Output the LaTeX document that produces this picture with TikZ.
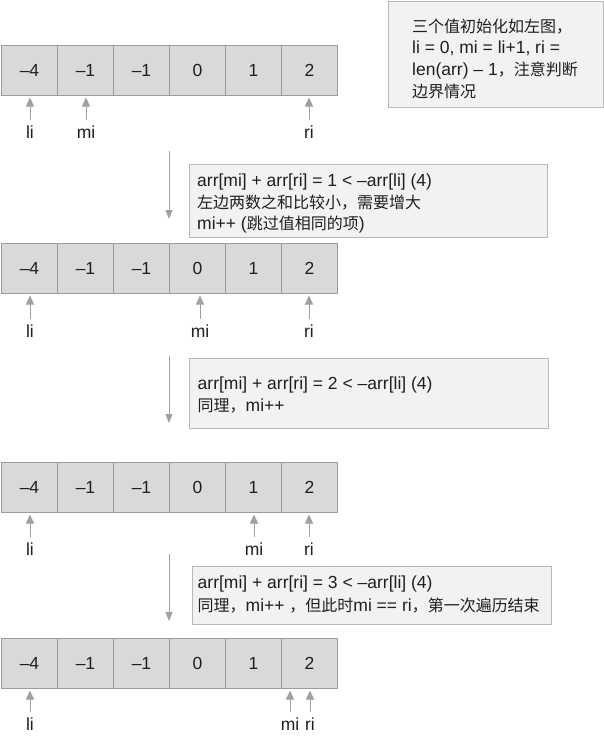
\documentclass[tikz,border=0pt]{standalone}
\usepackage{fontspec}
\setmainfont{Liberation Sans}
\newfontfamily\cjk[Scale=0.914]{Noto Sans CJK SC}
\usetikzlibrary{arrows.meta,calc}
\definecolor{cellfill}{HTML}{D9D9D9}
\definecolor{celldraw}{HTML}{9B9B9B}
\definecolor{notefill}{HTML}{F2F2F2}
\definecolor{notedraw}{HTML}{B8B8B8}
\definecolor{arrowgray}{HTML}{A0A0A0}
\definecolor{ink}{HTML}{1F1F1F}
\begin{document}
\begin{tikzpicture}[x=1pt,y=-1pt,
  txt/.style={font=\fontsize{17.5}{21.7}\selectfont, text=ink},
  cell/.style={draw=celldraw, fill=cellfill, line width=1pt, minimum width=56pt, minimum height=49.5pt, inner sep=0, anchor=north west, txt},
  note/.style={draw=notedraw, fill=notefill, line width=1pt, anchor=north west, inner sep=0},
  ptr/.style={draw=arrowgray, line width=1pt, -{Triangle[width=8pt,length=9pt]}, shorten <=5pt, shorten >=2pt},
  flow/.style={draw=arrowgray, line width=1pt, -{Triangle[width=7pt,length=9pt]}},
  lbl/.style={txt, inner sep=0, anchor=base},
  notetext/.style={txt, inner sep=0, anchor=north west, align=left},
]
\useasboundingbox[fill=white] (0,0) rectangle (604,736);

% arrays
\foreach \r/\top in {1/45,2/243,3/462,4/638} {
  \foreach \v [count=\i] in {–4,–1,–1,0,1,2} {
    \node[cell] (a\r c\i) at ({1+56*(\i-1)},\top) {\v};
  }
}

% pointer labels, row 1
\node[lbl] (li1) at (30,138) {li};
\node[lbl] (mi1) at (86,138) {mi};
\node[lbl] (ri1) at (309,138) {ri};
\draw[ptr] (li1.north) -- (li1.north |- a1c1.south);
\draw[ptr] (mi1.north) -- (mi1.north |- a1c2.south);
\draw[ptr] (ri1.north) -- (ri1.north |- a1c6.south);

% row 2
\node[lbl] (li2) at (30,337) {li};
\node[lbl] (mi2) at (200,337) {mi};
\node[lbl] (ri2) at (309,337) {ri};
\draw[ptr] (li2.north) -- (li2.north |- a2c1.south);
\draw[ptr] (mi2.north) -- (mi2.north |- a2c4.south);
\draw[ptr] (ri2.north) -- (ri2.north |- a2c6.south);

% row 3
\node[lbl] (li3) at (30,555) {li};
\node[lbl] (mi3) at (254,555) {mi};
\node[lbl] (ri3) at (309,555) {ri};
\draw[ptr] (li3.north) -- (li3.north |- a3c1.south);
\draw[ptr] (mi3.north) -- (mi3.north |- a3c5.south);
\draw[ptr] (ri3.north) -- (ri3.north |- a3c6.south);

% row 4
\node[lbl] (li4) at (30,730) {li};
\node[lbl] (mi4) at (290,730) {mi};
\node[lbl] (ri4) at (310,730) {ri};
\draw[ptr] (li4.north) -- (li4.north |- a4c1.south);
\draw[ptr] (mi4.north) -- (mi4.north |- a4c6.south);
\draw[ptr] (ri4.north) -- (ri4.north |- a4c6.south);

% flow arrows
\coordinate (f1s) at (169,151); \coordinate (f1e) at (169,219);
\coordinate (f2s) at (169,356); \coordinate (f2e) at (169,423);
\coordinate (f3s) at (169,554); \coordinate (f3e) at (169,621);
\draw[flow] (f1s) -- (f1e);
\draw[flow] (f2s) -- (f2e);
\draw[flow] (f3s) -- (f3e);

% notes
\node[note, minimum width=215pt, minimum height=106pt] (noteA) at (388,1) {};
\node[notetext] (tA) at (412,18.5) {{\cjk 三个值初始化如左图，}\\li = 0, mi = li+1, ri =\\len(arr) – 1{\cjk ，注意判断}\\{\cjk 边界情况}};

\node[note, minimum width=358pt, minimum height=73pt] (noteB) at (189,164) {};
\node[notetext] (tB) at (197,173.5) {arr[mi] + arr[ri] = 1 < –arr[li] (4)\\{\cjk 左边两数之和比较小，需要增大}\\mi++ ({\cjk 跳过值相同的项})};

\node[note, minimum width=359pt, minimum height=70pt] (noteC) at (189,358) {};
\node[notetext, font=\fontsize{17.5}{22.3}\selectfont] (tC) at (197.5,376.5) {arr[mi] + arr[ri] = 2 < –arr[li] (4)\\{\cjk 同理，}mi++};

\node[note, minimum width=359pt, minimum height=58pt] (noteD) at (192,566) {};
\node[notetext, font=\fontsize{17.5}{22.8}\selectfont] (tD) at (197.5,575.5) {arr[mi] + arr[ri] = 3 < –arr[li] (4)\\{\cjk 同理，}mi++ {\cjk ，但此时}mi == ri{\cjk ，第一次遍历结束}};
\end{tikzpicture}
\end{document}
